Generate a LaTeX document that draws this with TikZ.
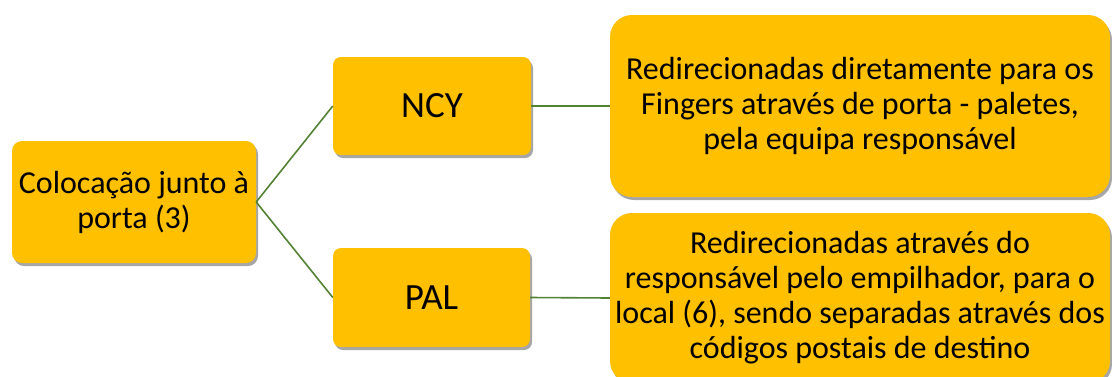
\documentclass[tikz,border=0pt]{standalone}
\usepackage{fontspec}
\setmainfont{Carlito}
\usetikzlibrary{shadows}
\definecolor{boxfill}{HTML}{FFC000}
\definecolor{linkgreen}{RGB}{84,130,53}
\begin{document}
\begin{tikzpicture}[x=1pt,y=-1pt,
  box/.style={rectangle, fill=boxfill, draw=none, align=center, inner sep=0pt,
    font=\fontsize{32}{35}\selectfont, text=black,
    drop shadow={shadow xshift=2pt, shadow yshift=-3pt, opacity=0.35, fill=black}},
  big/.style={font=\fontsize{37}{40}\selectfont},
  link/.style={draw=linkgreen, line width=1.6pt}]
\useasboundingbox (0,0) rectangle (1112,376);
\clip (0,0) rectangle (1112,376);
\node[box, rounded corners=10pt, minimum width=244pt, minimum height=122pt] (root) at (134,202) {Colocação junto à\\porta (3)};
\node[box, big, rounded corners=8pt, minimum width=198pt, minimum height=98pt] (ncy) at (432,106) {NCY};
\node[box, big, rounded corners=8pt, minimum width=197pt, minimum height=99pt] (pal) at (431.5,297.5) {PAL};
\node[box, rounded corners=22pt, minimum width=500pt, minimum height=182pt] (d1) at (860,106) {Redirecionadas diretamente para os\\Fingers através de porta - paletes,\\pela equipa responsável};
\node[box, rounded corners=22pt, minimum width=500pt, minimum height=170pt] (d2) at (860,298) {Redirecionadas através do\\responsável pelo empilhador, para o\\local (6), sendo separadas através dos\\códigos postais de destino};
\draw[link] (root.east) -- (ncy.west);
\draw[link] (root.east) -- (pal.west);
\draw[link] (ncy.east) -- (d1.west);
\draw[link] (pal.east) -- (d2.west);
\end{tikzpicture}
\end{document}
